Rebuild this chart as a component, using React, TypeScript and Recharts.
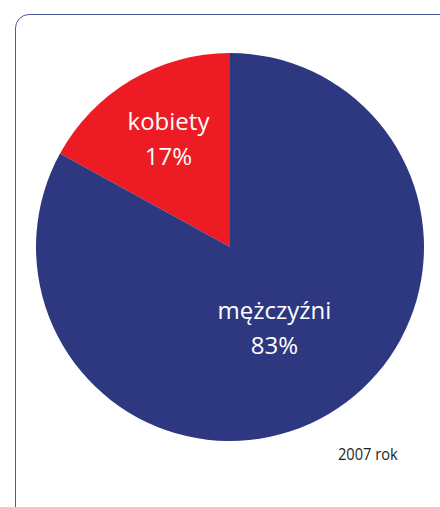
import { PieChart, Pie, Cell } from "recharts"

const categories = ["kobiety", "mężczyźni"]
const shares = [17, 83]
const colors = ["#ED1C24", "#2E3880"]
const yearNote = "2007 rok"

const data = categories.map((name, i) => ({ name, value: shares[i] }))

const RADIAN = Math.PI / 180
// label placement inside each slice (fraction of radius, angle nudge in degrees)
const labelRadius = [0.605, 0.512]
const labelNudge = [1, -4]

function renderLabel({ cx, cy, midAngle, outerRadius, index, name, value }: any) {
  const r = outerRadius * labelRadius[index]
  const a = (midAngle + labelNudge[index]) * RADIAN
  const x = cx + r * Math.cos(-a)
  const y = cy + r * Math.sin(-a)
  return (
    <text
      x={x}
      y={y}
      fill="#fff"
      textAnchor="middle"
      fontFamily="'Open Sans', sans-serif"
      fontSize={24}
    >
      <tspan x={x} y={y - 17}>{name}</tspan>
      <tspan x={x} y={y + 18}>{`${value}%`}</tspan>
    </text>
  )
}

export default function App() {
  return (
    <div
      style={{
        position: "absolute",
        left: 0,
        top: 0,
        width: 440,
        height: 507,
        overflow: "hidden",
        background: "#fff",
      }}
    >
      <div
        style={{
          position: "absolute",
          left: 15,
          top: 14,
          width: 440,
          height: 510,
          border: "1.5px solid #4B5A9E",
          borderRadius: 14,
        }}
      />
      <div style={{ position: "absolute", left: 0, top: 0 }}>
        <PieChart width={440} height={507} margin={{ top: 0, right: 0, bottom: 0, left: 0 }}>
          <Pie
            data={data}
            dataKey="value"
            nameKey="name"
            cx={230}
            cy={247}
            outerRadius={194}
            startAngle={90}
            endAngle={450}
            stroke="none"
            label={renderLabel}
            labelLine={false}
            isAnimationActive={false}
          >
            {data.map((d, i) => (
              <Cell key={d.name} fill={colors[i]} />
            ))}
          </Pie>
        </PieChart>
      </div>
      <div
        style={{
          position: "absolute",
          left: 338,
          top: 444,
          fontFamily: "'Open Sans', sans-serif",
          fontSize: 17,
          color: "#231F20",
          lineHeight: "20px",
          whiteSpace: "nowrap",
          transform: "scaleX(0.86)",
          transformOrigin: "left top",
        }}
      >
        {yearNote}
      </div>
    </div>
  )
}
